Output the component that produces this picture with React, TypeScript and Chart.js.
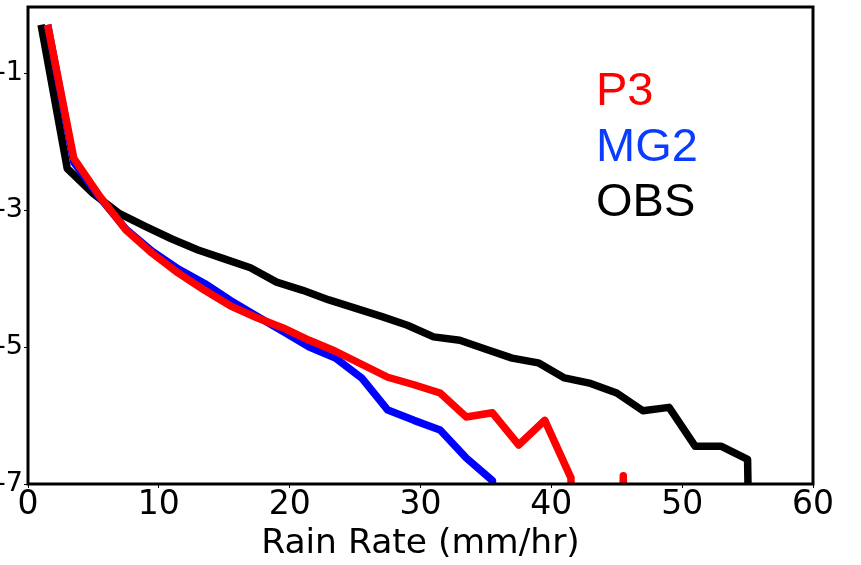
import React, { useEffect, useRef } from 'react';
import { Chart, registerables } from 'chart.js';

Chart.register(...registerables);

// value used where the log-frequency is -infinity (bin empty): far below the axis
const FLOOR = -30;

const obsX = [1, 3, 5, 7, 9, 11, 13, 15, 17, 19, 21, 23, 25, 27, 29, 31, 33, 35, 37, 39, 41, 43, 45, 47, 49, 51, 53, 55, 57];
const obsY = [-0.29, -2.39, -2.76, -3.05, -3.24, -3.42, -3.58, -3.71, -3.84, -4.05, -4.17, -4.31, -4.43, -4.55, -4.68, -4.85, -4.9, -5.03, -5.16, -5.23, -5.45, -5.53, -5.67, -5.93, -5.88, -6.45, -6.45, -6.64, FLOOR];

const p3X = [1.5, 3.5, 5.5, 7.5, 9.5, 11.5, 13.5, 15.5, 17.5, 19.5, 21.5, 23.5, 25.5, 27.5, 29.5, 31.5, 33.5, 35.5, 37.5, 39.5, 41.5, 43.5, 45.5, 47.5];
const p3Y = [-0.29, -2.24, -2.8, -3.29, -3.63, -3.92, -4.17, -4.4, -4.57, -4.72, -4.9, -5.06, -5.25, -5.44, -5.55, -5.67, -6.02, -5.96, -6.43, -6.07, -6.91, FLOOR, -6.88, FLOOR];

const mg2X = [1.5, 3.5, 5.5, 7.5, 9.5, 11.5, 13.5, 15.5, 17.5, 19.5, 21.5, 23.5, 25.5, 27.5, 29.5, 31.5, 33.5, 35.5, 37.5];
const mg2Y = [-0.29, -2.3, -2.82, -3.28, -3.6, -3.86, -4.07, -4.32, -4.55, -4.77, -5.0, -5.16, -5.45, -5.92, -6.07, -6.21, -6.62, -6.95, FLOOR];

const xTicks = [0, 10, 20, 30, 40, 50, 60];
const yTicks = [-1, -3, -5, -7];

const seriesLabels = ['P3', 'MG2', 'OBS'];
const lineColors = ['#ff0000', '#0000ff', '#000000'];
const legendColors = ['#ff0000', '#0a3cff', '#000000'];

const SHIFT = 10;
const W = 861 + SHIFT;
const H = 565;

function zip(xs: number[], ys: number[]) {
  return xs.map((x, i) => ({ x, y: ys[i] }));
}

const framePlugin = {
  id: 'frame',
  afterDatasetsDraw(chart: any) {
    const { ctx, chartArea } = chart;
    ctx.save();
    ctx.strokeStyle = '#000';
    ctx.lineWidth = 3;
    ctx.strokeRect(chartArea.left, chartArea.top, chartArea.right - chartArea.left, chartArea.bottom - chartArea.top);
    ctx.restore();
  },
};

const legendOffsets = [98, 153.5, 209];

const textLegendPlugin = {
  id: 'textLegend',
  afterDraw(chart: any) {
    const { ctx, chartArea } = chart;
    ctx.save();
    ctx.font = '47px "Liberation Sans", Arial, sans-serif';
    ctx.textAlign = 'left';
    ctx.textBaseline = 'alphabetic';
    chart.data.datasets.forEach((ds: any, i: number) => {
      ctx.fillStyle = legendColors[i];
      ctx.fillText(ds.label, chartArea.left + 568, chartArea.top + legendOffsets[i]);
    });
    ctx.restore();
  },
};

export default function App() {
  const ref = useRef<HTMLCanvasElement | null>(null);

  useEffect(() => {
    if (!ref.current) return;
    const common = {
      borderWidth: 7.5,
      pointRadius: 0,
      pointHoverRadius: 0,
      tension: 0,
      clip: 0,
      fill: false,
      borderJoinStyle: 'round',
      borderCapStyle: 'butt',
    };
    const chart = new Chart(ref.current, {
      type: 'line',
      data: {
        datasets: [
          { ...common, label: seriesLabels[0], data: zip(p3X, p3Y), borderColor: lineColors[0] },
          { ...common, label: seriesLabels[1], data: zip(mg2X, mg2Y), borderColor: lineColors[1] },
          { ...common, label: seriesLabels[2], data: zip(obsX, obsY), borderColor: lineColors[2] },
        ] as any,
      },
      options: {
        responsive: false,
        animation: false,
        devicePixelRatio: 1,
        layout: { padding: { left: 0, right: 48, top: 7, bottom: 0 } },
        plugins: { legend: { display: false }, tooltip: { enabled: false } },
        scales: {
          x: {
            type: 'linear',
            min: 0,
            max: 60,
            afterBuildTicks: (s: any) => {
              s.ticks = xTicks.map((v) => ({ value: v }));
            },
            afterFit: (s: any) => {
              s.height = 81;
            },
            grid: { display: true, drawOnChartArea: false, drawTicks: true, tickLength: 4, color: '#000', lineWidth: 1 },
            border: { display: false },
            ticks: {
              font: { family: 'DejaVu Sans', size: 33 },
              color: '#000',
              padding: -2,
              maxRotation: 0,
              autoSkip: false,
              callback: (v: any) => String(v),
            },
            title: {
              display: true,
              text: 'Rain Rate (mm/hr)',
              font: { family: 'DejaVu Sans', size: 34.5 },
              color: '#000',
              padding: { top: 0, bottom: 0 },
            },
          },
          y: {
            type: 'linear',
            min: -7,
            max: -0.03,
            afterBuildTicks: (s: any) => {
              s.ticks = yTicks.map((v) => ({ value: v }));
            },
            afterFit: (s: any) => {
              s.width = 38;
              s.paddingTop = 0;
              s.paddingBottom = 0;
            },
            grid: { display: true, drawOnChartArea: false, drawTicks: true, tickLength: 4, color: '#000', lineWidth: 1 },
            border: { display: false },
            ticks: {
              font: { family: 'DejaVu Sans', size: 27 },
              color: '#000',
              padding: 1,
              autoSkip: false,
              callback: (v: any) => String(v),
            },
          },
        },
      } as any,
      plugins: [framePlugin, textLegendPlugin],
    });
    return () => chart.destroy();
  }, []);

  return (
    <div style={{ position: 'absolute', left: 0, top: 0, width: 861, height: 565, overflow: 'hidden', background: '#fff' }}>
      <canvas ref={ref} width={W} height={H} style={{ position: 'absolute', left: -SHIFT, top: 0, width: W, height: H }} />
    </div>
  );
}
